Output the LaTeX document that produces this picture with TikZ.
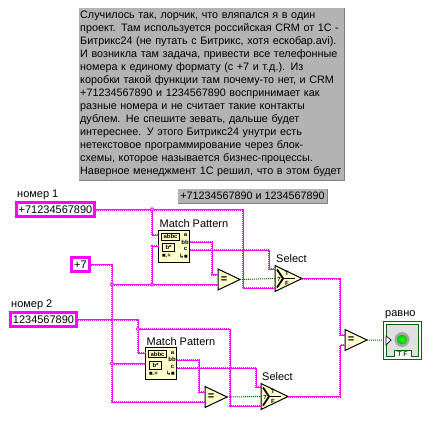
\documentclass[tikz,border=0pt]{standalone}
\usepackage{fontspec}
\setmainfont{Liberation Sans}
\newfontfamily\symfont{DejaVu Sans}
\usetikzlibrary{shapes.geometric,positioning}
\definecolor{lvpink}{HTML}{FF00FF}
\definecolor{lvgreen}{HTML}{006600}
\definecolor{lvicon}{HTML}{FFFFCC}
\definecolor{lvgray}{HTML}{B3B3B3}
\tikzset{
	strwire/.style={lvpink, line width=1pt, postaction={draw=lvpink, line width=2pt, dash pattern=on 1pt off 1pt}},
	boolwire/.style={lvgreen, line width=1pt, dash pattern=on 1pt off 1pt},
	ctrl/.style={draw=lvpink, fill=white, line width=3pt, inner sep=0pt, font=\fontsize{11}{13}\selectfont},
	tag/.style={inner sep=0pt, font=\fontsize{11}{13}\selectfont},
	note/.style={fill=lvgray, inner sep=0pt, font=\fontsize{10.8}{13}\selectfont},
	bevel/.style={draw=gray, line width=1pt},
	junct/.style={circle, draw=lvpink, fill=white, line width=0.8pt, inner sep=0pt, minimum size=3.5pt},
	vibox/.style={draw=black, fill=lvicon, line width=1pt, inner sep=0pt, outer sep=0pt, minimum width=31pt, minimum height=32pt},
	cmp/.style={isosceles triangle, isosceles triangle stretches, draw=black, fill=lvicon, line width=1pt, inner sep=0pt, outer sep=0pt, minimum width=21pt, minimum height=22pt, anchor=apex, font=\bfseries\fontsize{11}{11}\selectfont},
	sel/.style={isosceles triangle, isosceles triangle stretches, draw=black, fill=lvicon, line width=1pt, inner sep=0pt, outer sep=0pt, minimum width=26pt, minimum height=27pt, anchor=apex},
	tiny/.style={inner sep=0pt, font=\bfseries\fontsize{6}{6}\selectfont},
}
\begin{document}
\begin{tikzpicture}[x=1pt, y=-1pt]
	\useasboundingbox (0,0) rectangle (443,423);

	% Text on the panel
	\node[note, anchor=north west, text width=263pt, minimum height=172pt, inner xsep=1pt, align=left] (txt) at (79,8) {Случилось так, лорчик, что вляпался я в один\\
	проект. Там используется российская CRM от 1С -\\
	Битрикс24 (не путать с Битрикс, хотя ескобар.avi).\\
	И возникла там задача, привести все телефонные\\
	номера к единому формату (с +7 и т.д.). Из\\
	коробки такой функции там почему-то нет, и CRM\\
	+71234567890 и 1234567890 воспринимает как\\
	разные номера и не считает такие контакты\\
	дублем. Не спешите зевать, дальше будет\\
	интереснее. У этого Битрикс24 унутри есть\\
	нетекстовое программирование через блок-\\
	схемы, которое называется бизнес-процессы.\\
	Наверное менеджмент 1С решил, что в этом будет};
	\draw[bevel] (txt.north east) -- (txt.south east) -- (txt.south west);
	\node[note, minimum width=149pt, minimum height=14pt] (sub) at (252.5,196) {+71234567890 и 1234567890};
	\draw[bevel] (sub.north east) -- (sub.south east) -- (sub.south west);

	% Controls
	\node[ctrl, minimum width=78pt, minimum height=14pt] (num1) at (55.5,209.5) {+71234567890};
	\node[ctrl, minimum width=18pt, minimum height=14pt] (plus7) at (80.5,264.5) {+7};
	\node[ctrl, minimum width=66pt, minimum height=14pt] (num2) at (43.5,319.5) {1234567890};
	\node[tag] (tagnum1) [above right=1pt and 2pt of num1.north west] {номер 1};
	\node[tag] (tagnum2) [above right=1pt and 2pt of num2.north west] {номер 2};

	% Functions
	\node[vibox] (mp1) at (174,246) {};
	\node[vibox] (mp2) at (161,363.5) {};
	\node[cmp] (eq1) at (240,279.5) {=};
	\node[cmp] (eq2) at (227,397) {=};
	\node[cmp] (eq3) at (367,340) {=};
	\node[sel] (sel1) at (302,278.5) {};
	\node[sel] (sel2) at (288,396.5) {};
	\node[tag] (tagmp1) [above right=2pt and 1pt of mp1.north west] {Match Pattern};
	\node[tag] (tagmp2) [above right=2pt and 1pt of mp2.north west] {Match Pattern};
	\node[tag] (tagsel1) [above right=16pt and 1pt of sel1.west] {Select};
	\node[tag] (tagsel2) [above right=16pt and 1pt of sel2.west] {Select};

	% Indicator
	\node[draw=lvgreen, fill=white, line width=1pt, minimum width=38pt, minimum height=38pt, inner sep=0pt, outer sep=0pt] (led) at (402,340) {};
	\node[tag] (tagled) [above right=2pt and 2pt of led.north west] {равно};
	\filldraw[draw=lvgreen, fill=black!12, line width=1pt] (386,324) -- (418,324) -- (418,356) -- (411,356) -- (411,350) -- (394,350) -- (394,356) -- (386,356) -- cycle;
	\node[circle, fill=black!35, minimum size=15pt, inner sep=0pt] (halo) at (402,339.5) {};
	\node[circle, inner color=green!85!white, outer color=green!75!black, minimum size=10pt, inner sep=0pt] (lamp) at (402,339.5) {};
	\filldraw[draw=black, fill=white, line width=0.7pt] (386,336) -- (391,340) -- (386,345) -- cycle;
	\node[inner sep=0pt, text=lvgreen, font=\bfseries\fontsize{7}{7}\selectfont] (tf) at (402.5,354) {T F};

	% Icons
	\foreach \m in {mp1,mp2} {
		\begin{scope}[shift={(\m.north west)}]
			\node[tiny, draw=black, line width=0.8pt, minimum width=18pt, minimum height=7pt] (\m abc) at (12,6.5) {abbc};
			\node[tiny, draw=black, line width=0.8pt, minimum width=12pt, minimum height=8pt] (\m pat) at (10,17.5) {b*};
			\node[tiny] (\m a) at (27,5) {a};
			\node[tiny] (\m bb) at (26.5,12) {bb};
			\node[tiny] (\m c) at (27,19) {c};
			\node[tiny] (\m l) at (8,26) {■.+};
			\node[tiny] (\m r) at (25,26) {{\symfont ↳}■};
		\end{scope}
	}
	\foreach \s in {sel1,sel2} {
		\begin{scope}[shift={(\s.west)}]
			\draw[line width=1.8pt] (2,-9) -- (8,0) -- (2,9);
			\draw[line width=1.8pt] (8,0) -- (20,0);
			\node[tiny] (\s q) at (4,1) {?};
			\node[tiny] (\s t) at (12,-5) {T};
			\node[tiny] (\s f) at (12,5) {F};
		\end{scope}
	}

	% Bends
	\coordinate (c1) at (243,209.5);
	\coordinate (c2) at (212,274.5);
	\coordinate (c3) at (269,250);
	\coordinate (c4) at (138,319.5);
	\coordinate (c5) at (230,406);
	\coordinate (c6) at (199,392);
	\coordinate (c7) at (256,368);
	\coordinate (c8) at (340,335);
	\coordinate (c9) at (340,345);
	\coordinate (j1) at (152,209.5);
	\coordinate (j2) at (152,284.5);
	\coordinate (j3) at (112,284.5);
	\coordinate (j4) at (112,363.5);
	\coordinate (j5) at (138,329);

	% Wires
	\draw[strwire] (num1.east) -- (j1) |- ([yshift=11]mp1.west);
	\draw[strwire] (j1) -- (c1) |- ([yshift=-9.5]sel1.west);
	\draw[strwire] (plus7.east) -| (j3) -- (j4) |- ([yshift=-5]eq2.west);
	\draw[strwire] (j3) -- (j2) -- ([yshift=-5]eq1.west);
	\draw[strwire] (j2) |- (mp1.west);
	\draw[strwire] ([yshift=4]mp1.east) -| (c2) -- ([yshift=5]eq1.west);
	\draw[strwire] ([yshift=-4]mp1.east) -- (c3) |- ([yshift=9.5]sel1.west);
	\draw[strwire] (num2.east) -- (c4) -- (j5) |- ([yshift=10.5]mp2.west);
	\draw[strwire] (j5) -| (c5) -- ([yshift=-9.5]sel2.west);
	\draw[strwire] (j4) -- (mp2.west);
	\draw[strwire] ([yshift=3.5]mp2.east) -| (c6) -- ([yshift=5]eq2.west);
	\draw[strwire] ([yshift=-4.5]mp2.east) -- (c7) |- ([yshift=9.5]sel2.west);
	\draw[strwire] (sel1.east) -| (c8) -- ([yshift=5]eq3.west);
	\draw[strwire] (sel2.east) -| (c9) -- ([yshift=-5]eq3.west);
	\draw[boolwire] (eq1.east) -- (sel1.west);
	\draw[boolwire] (eq2.east) -- (sel2.west);
	\draw[boolwire] (eq3.east) -- (led.west);

	% Junctions
	\foreach \j/\x/\y in {d1/152/209.5, d2/152/284.5, d3/112/284.5, d4/112/363.5, d5/138/329} {
		\node[junct] (\j) at (\x,\y) {};
	}
\end{tikzpicture}
\end{document}
